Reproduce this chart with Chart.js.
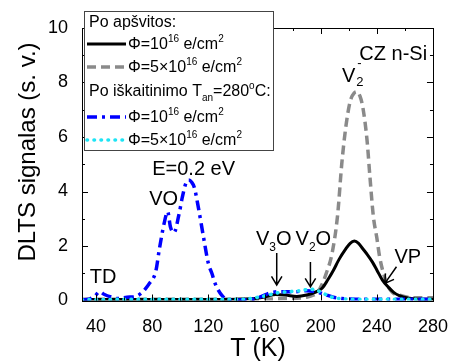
<!DOCTYPE html>
<html>
<head>
<meta charset="utf-8">
<script src="https://cdn.jsdelivr.net/npm/chart.js@4/dist/chart.umd.min.js"></script>
<style>
  html, body { margin: 0; padding: 0; background: #fff; }
  canvas { display: block; }
</style>
</head>
<body>
<canvas id="dltsChart" width="456" height="362"></canvas>
<script>
// Po apšvitos, Φ=1e16 (juoda ištisinė)
const tBlack = [30, 50, 70, 90, 110, 130, 150, 160, 168, 175, 183, 190, 196, 201, 205, 209, 213, 218, 221, 224, 227, 230, 233, 237, 240, 244, 248, 252, 256, 262, 270, 280];
const sBlack = [0.04, 0.04, 0.04, 0.04, 0.04, 0.04, 0.06, 0.13, 0.22, 0.2, 0.15, 0.2, 0.3, 0.45, 0.75, 1.1, 1.5, 1.9, 2.1, 2.18, 2.1, 1.9, 1.7, 1.4, 1.12, 0.75, 0.5, 0.3, 0.18, 0.09, 0.05, 0.05];

// Po apšvitos, Φ=5e16 (pilka brūkšninė)
const tGray = [30, 60, 90, 120, 150, 175, 190, 195, 198, 201, 204, 208, 212, 215, 218, 221, 224, 226, 228, 230, 233, 235, 237.5, 240, 242, 247, 251, 256, 262, 270, 280];
const sGray = [0.05, 0.05, 0.05, 0.05, 0.05, 0.07, 0.12, 0.2, 0.32, 0.6, 1.0, 1.7, 3.1, 5.0, 6.4, 7.3, 7.62, 7.66, 7.5, 7.1, 5.9, 4.6, 3.1, 2.3, 1.6, 0.64, 0.3, 0.2, 0.12, 0.1, 0.1];

// Po iškaitinimo, Φ=1e16 (mėlyna brūkšnys-taškas)
const tBlue = [30, 35, 39, 42.5, 46, 50, 56, 62, 68, 72, 75, 78, 82.5, 85, 88.5, 91, 93, 95.5, 99, 101.5, 104, 106, 108, 110, 113, 116.5, 120, 122.5, 125, 129.5, 134, 141, 150, 157.5, 164.5, 172, 181, 190, 197, 203, 209, 215, 225, 240, 260, 280];
const sBlue = [0.02, 0.05, 0.15, 0.32, 0.22, 0.14, 0.07, 0.12, 0.14, 0.26, 0.42, 0.63, 1.06, 1.85, 2.83, 3.26, 2.7, 2.49, 3.14, 3.8, 4.3, 4.42, 4.35, 4.15, 3.38, 2.34, 1.36, 1.0, 0.6, 0.2, 0.03, 0.02, 0.03, 0.14, 0.29, 0.32, 0.32, 0.36, 0.32, 0.22, 0.12, 0.07, 0.05, 0.05, 0.05, 0.05];

// Po iškaitinimo, Φ=5e16 (žydra taškinė)
const tCyan = [30, 60, 90, 120, 140, 150, 157.5, 163, 167, 172, 176.5, 181, 186, 190, 193, 197, 202, 207, 212, 220, 240, 260, 280];
const sCyan = [0.03, 0.04, 0.04, 0.04, 0.04, 0.07, 0.14, 0.2, 0.26, 0.3, 0.32, 0.34, 0.36, 0.4, 0.41, 0.38, 0.26, 0.14, 0.08, 0.05, 0.04, 0.04, 0.04];

// ašių žymės
const xTicks = [40, 80, 120, 160, 200, 240, 280];
const xMinor = [60, 100, 140, 180, 220, 260];
const yTicks = [0, 2, 4, 6, 8, 10];
const yMinor = [1, 3, 5, 7, 9];

const FONT = '"Liberation Sans", Arial, sans-serif';

const styles = {
    black: { color: '#000000', width: 3, dash: [] },
    gray: { color: '#8a8a8a', width: 3.5, dash: [9, 5] },
    blue: { color: '#0000ff', width: 3.5, dash: [10, 5, 3, 5] },
    cyan: { color: '#1ee4f5', width: 3.6, dash: [0.5, 6.5], cap: 'round' }
};

function toPoints(t, s) {
    return t.map((x, i) => ({ x: x, y: s[i] }));
}

function makeSet(t, s, st, order) {
    return {
        data: toPoints(t, s),
        borderColor: st.color,
        borderWidth: st.width,
        borderDash: st.dash,
        borderCapStyle: st.cap || 'butt',
        pointRadius: 0,
        fill: false,
        cubicInterpolationMode: 'monotone',
        order: order
    };
}

// tekstas su indeksais: [tekstas, 0 paprastas | 1 viršutinis | -1 apatinis]
function drawRich(ctx, x, y, parts, size) {
    let cx = x;
    parts.forEach(([txt, mode]) => {
        const fs = mode === 0 ? size : Math.round(size * 0.62);
        ctx.font = fs + 'px ' + FONT;
        const dy = mode === 1 ? -size * 0.42 : (mode === -1 ? size * 0.3 : 0);
        ctx.fillText(txt, cx, y + dy);
        cx += ctx.measureText(txt).width;
    });
    return cx;
}

function sampleLine(ctx, x1, x2, y, st) {
    ctx.save();
    ctx.strokeStyle = st.color;
    ctx.lineWidth = st.width;
    ctx.setLineDash(st.dash);
    ctx.lineCap = st.cap || 'butt';
    ctx.beginPath();
    ctx.moveTo(x1, y);
    ctx.lineTo(x2, y);
    ctx.stroke();
    ctx.restore();
}

// užrašai duomenų koordinatėmis
const labels = [
    { t: 275.8, v: 8.83, align: 'right', parts: [['CZ n-Si', 0]] },
    { t: 80, v: 4.61, parts: [['E=0.2 eV', 0]] },
    { t: 77.9, v: 3.5, parts: [['VO', 0]] },
    { t: 35.6, v: 0.64, parts: [['TD', 0]] },
    { t: 153.9, v: 2.04, parts: [['V', 0], ['3', -1], ['O', 0]] },
    { t: 182.1, v: 2.04, parts: [['V', 0], ['2', -1], ['O', 0]] },
    { t: 252.5, v: 1.38, parts: [['VP', 0]] }
];
const arrows = [
    { t1: 168.7, v1: 1.74, t2: 168.7, v2: 0.57 },
    { t1: 192.7, v1: 1.41, t2: 192.7, v2: 0.5 },
    { t1: 254, v1: 1.24, t2: 245.7, v2: 0.63 }
];

function drawArrow(ctx, x1, y1, x2, y2) {
    const ang = Math.atan2(y2 - y1, x2 - x1);
    const L = 10, a = 0.55;
    ctx.beginPath();
    ctx.moveTo(x1, y1);
    ctx.lineTo(x2, y2);
    ctx.moveTo(x2 - L * Math.cos(ang - a), y2 - L * Math.sin(ang - a));
    ctx.lineTo(x2, y2);
    ctx.lineTo(x2 - L * Math.cos(ang + a), y2 - L * Math.sin(ang + a));
    ctx.stroke();
}

const decorPlugin = {
    id: 'decor',
    afterDatasetsDraw(chart) {
        const { ctx, chartArea: a, scales: { x, y } } = chart;
        ctx.save();
        ctx.strokeStyle = '#000';
        ctx.fillStyle = '#000';
        ctx.lineWidth = 1;

        // rėmelis
        ctx.strokeRect(Math.round(a.left) + 0.5, Math.round(a.top) + 0.5,
            Math.round(a.right - a.left), Math.round(a.bottom - a.top));

        // žymės į vidų
        ctx.beginPath();
        const tickX = (v, len) => {
            const px = Math.round(x.getPixelForValue(v)) + 0.5;
            ctx.moveTo(px, a.bottom); ctx.lineTo(px, a.bottom - len);
            ctx.moveTo(px, a.top); ctx.lineTo(px, a.top + len);
        };
        const tickY = (v, len) => {
            const py = Math.round(y.getPixelForValue(v)) + 0.5;
            ctx.moveTo(a.left, py); ctx.lineTo(a.left + len, py);
            ctx.moveTo(a.right, py); ctx.lineTo(a.right - len, py);
        };
        xTicks.forEach(v => tickX(v, 6));
        xMinor.forEach(v => tickX(v, 3));
        yTicks.forEach(v => tickY(v, 6));
        yMinor.forEach(v => tickY(v, 3));
        ctx.stroke();

        // ašių pavadinimai
        ctx.textBaseline = 'alphabetic';
        ctx.textAlign = 'center';
        ctx.font = '25px ' + FONT;
        ctx.fillText('T (K)', 258, 356);
        ctx.save();
        ctx.translate(35, 152);
        ctx.rotate(-Math.PI / 2);
        ctx.font = '24px ' + FONT;
        ctx.fillText('DLTS signalas (s. v.)', 0, 0);
        ctx.restore();

        // užrašai
        labels.forEach(l => {
            const px = x.getPixelForValue(l.t);
            const py = y.getPixelForValue(l.v);
            ctx.font = '20px ' + FONT;
            if (l.align === 'right') {
                ctx.textAlign = 'right';
                ctx.fillText(l.parts[0][0], px, py);
            } else {
                ctx.textAlign = 'left';
                drawRich(ctx, px, py, l.parts, 20);
            }
        });
        // V2 su minuso ženklu
        ctx.textAlign = 'left';
        const vx = x.getPixelForValue(215.2), vy = y.getPixelForValue(8.02);
        ctx.font = '20px ' + FONT;
        ctx.fillText('V', vx, vy);
        const vw = ctx.measureText('V').width;
        ctx.font = '13px ' + FONT;
        ctx.fillText('2', vx + vw + 1, vy + 4);
        ctx.fillText('-', vx + vw + 2, vy - 15);

        // rodyklės
        ctx.lineWidth = 1.5;
        arrows.forEach(r => drawArrow(ctx,
            x.getPixelForValue(r.t1), y.getPixelForValue(r.v1),
            x.getPixelForValue(r.t2), y.getPixelForValue(r.v2)));

        // legenda
        ctx.fillStyle = '#fff';
        ctx.fillRect(84, 11, 189, 139);
        ctx.strokeStyle = '#444';
        ctx.lineWidth = 1;
        ctx.strokeRect(84.5, 11.5, 189, 139);
        ctx.fillStyle = '#000';
        ctx.textAlign = 'left';
        const fs = 16;
        drawRich(ctx, 89, 27, [['Po apšvitos:', 0]], fs);
        sampleLine(ctx, 87, 126, 44, styles.black);
        drawRich(ctx, 128, 49, [['Φ=10', 0], ['16', 1], [' e/cm', 0], ['2', 1]], fs);
        sampleLine(ctx, 87, 126, 67, styles.gray);
        drawRich(ctx, 128, 72, [['Φ=5×10', 0], ['16', 1], [' e/cm', 0], ['2', 1]], fs);
        drawRich(ctx, 89, 96, [['Po iškaitinimo T', 0], ['an', -1], ['=280', 0], ['o', 1], ['C:', 0]], fs);
        sampleLine(ctx, 87, 126, 117, styles.blue);
        drawRich(ctx, 128, 122, [['Φ=10', 0], ['16', 1], [' e/cm', 0], ['2', 1]], fs);
        sampleLine(ctx, 87, 126, 140, styles.cyan);
        drawRich(ctx, 128, 145, [['Φ=5×10', 0], ['16', 1], [' e/cm', 0], ['2', 1]], fs);

        ctx.restore();
    }
};

const ctx = document.getElementById('dltsChart').getContext('2d');
const dltsChart = new Chart(ctx, {
    type: 'line',
    data: {
        datasets: [
            makeSet(tBlack, sBlack, styles.black, 2),
            makeSet(tGray, sGray, styles.gray, 3),
            makeSet(tBlue, sBlue, styles.blue, 1),
            makeSet(tCyan, sCyan, styles.cyan, 0)
        ]
    },
    options: {
        responsive: false,
        animation: false,
        layout: { padding: { top: 28, right: 19, left: 0, bottom: 0 } },
        plugins: { legend: { display: false }, tooltip: { enabled: false } },
        scales: {
            x: {
                type: 'linear',
                min: 30,
                max: 280,
                grid: { display: false },
                border: { display: false },
                afterBuildTicks: s => { s.ticks = xTicks.map(v => ({ value: v })); },
                afterFit: s => { s.height = 61.5; },
                ticks: { color: '#000', font: { size: 18, family: FONT }, padding: 8, maxRotation: 0 }
            },
            y: {
                min: 0,
                max: 10,
                grid: { display: false },
                border: { display: false },
                afterBuildTicks: s => { s.ticks = yTicks.map(v => ({ value: v })); },
                afterFit: s => { s.width = 82; },
                ticks: { color: '#000', font: { size: 18, family: FONT }, padding: 6 }
            }
        }
    },
    plugins: [decorPlugin]
});
</script>
</body>
</html>
